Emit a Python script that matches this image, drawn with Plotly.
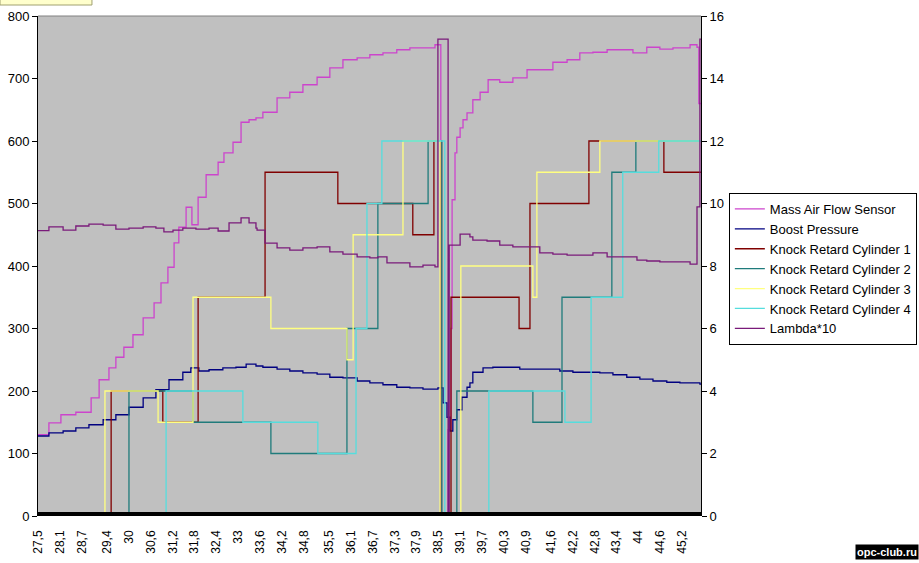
import plotly.graph_objects as go

# time axis labels (as shown on the chart)
tick_labels = ['27,5', '28,1', '28,7', '29,4', '30', '30,6', '31,2', '31,8', '32,4', '33',
               '33,6', '34,2', '34,8', '35,5', '36,1', '36,7', '37,3', '37,9', '38,5', '39,1',
               '39,7', '40,3', '40,9', '41,6', '42,2', '42,8', '43,4', '44', '44,6', '45,2']

# Mass Air Flow Sensor (left axis)
maf_t = [27.50, 27.80, 28.13, 28.54, 28.96, 29.18, 29.45, 29.64, 29.86, 30.11, 30.39, 30.69,
         30.88, 31.07, 31.24, 31.37, 31.57, 31.73, 31.90, 32.12, 32.45, 32.61, 32.86, 33.08,
         33.30, 33.49, 33.68, 34.07, 34.42, 34.78, 35.17, 35.52, 35.88, 36.27, 36.62, 36.98,
         37.36, 37.72, 38.08, 38.41, 38.55, 38.57, 38.71, 38.77, 38.85, 38.88, 38.96, 39.01,
         39.10, 39.18, 39.29, 39.45, 39.65, 39.87, 40.19, 40.55, 40.94, 41.29, 41.65, 42.04,
         42.39, 42.75, 43.14, 43.49, 43.85, 44.23, 44.59, 44.95, 45.42, 45.61, 45.66, 45.72]
maf_v = [130, 149, 162, 166, 189, 218, 237, 254, 270, 290, 317, 341,
         373, 398, 437, 462, 494, 466, 510, 546, 566, 581, 598, 630,
         634, 637, 646, 669, 678, 690, 702, 717, 730, 733, 738, 741,
         746, 749, 749, 754, 754, 0, 0, 138, 300, 506, 581, 606,
         621, 634, 645, 666, 678, 698, 694, 701, 714, 714, 726, 730,
         741, 742, 746, 746, 741, 750, 747, 749, 754, 750, 660, 660]

# Boost Pressure (left axis)
boost_t = [27.50, 27.80, 28.19, 28.54, 28.90, 29.29, 29.64, 30.00, 30.39, 30.74, 31.10, 31.48,
           31.70, 31.92, 32.20, 32.58, 32.94, 33.22, 33.49, 33.68, 34.07, 34.42, 34.78, 35.17,
           35.52, 35.88, 36.27, 36.62, 36.98, 37.36, 37.72, 38.08, 38.49, 38.63, 38.74, 38.82,
           38.90, 39.01, 39.15, 39.29, 39.37, 39.45, 39.73, 40.00, 40.39, 40.74, 41.49, 41.84,
           42.20, 42.59, 42.94, 43.30, 43.68, 44.04, 44.40, 44.78, 45.14, 45.69, 45.72]
boost_v = [128, 133, 136, 141, 146, 154, 162, 174, 189, 202, 218, 230,
           237, 232, 234, 237, 238, 243, 240, 238, 235, 232, 229, 227,
           222, 221, 216, 213, 210, 206, 205, 203, 205, 181, 158, 136,
           154, 170, 190, 206, 213, 230, 237, 238, 238, 235, 235, 232,
           230, 230, 229, 226, 222, 219, 216, 214, 213, 211, 211]

# Knock retard, cylinders 1-4 (right axis, step changes)
kr1_t = [27.50, 29.51, 30.93, 31.90, 33.74, 35.74, 37.80, 38.38, 38.57, 38.85, 40.72, 41.02, 42.64, 44.70, 45.72]
kr1_v = [0, 4, 3, 7, 11, 10, 9, 12, 0, 7, 6, 10, 12, 11, 11]
kr2_t = [27.50, 30.00, 31.76, 33.90, 35.99, 36.84, 38.22, 38.60, 39.01, 41.10, 41.90, 43.27, 43.93, 45.72]
kr2_v = [0, 4, 3, 2, 6, 10, 12, 0, 4, 3, 7, 11, 12, 12]
kr3_t = [27.50, 29.34, 30.80, 31.76, 33.90, 35.99, 36.16, 37.53, 38.55, 39.12, 41.10, 41.21, 42.94, 45.72]
kr3_v = [0, 4, 3, 7, 6, 5, 9, 12, 0, 8, 7, 11, 12, 12]
kr4_t = [27.50, 31.02, 33.13, 35.19, 36.24, 36.54, 36.95, 38.68, 39.89, 41.98, 42.70, 43.57, 44.56, 45.72]
kr4_v = [0, 4, 3, 2, 6, 10, 12, 0, 4, 3, 7, 11, 12, 12]

# Lambda*10 (right axis)
lam_t = [27.50, 27.80, 28.19, 28.54, 28.90, 29.29, 29.64, 30.00, 30.39, 30.74, 30.96, 31.21,
         31.48, 31.84, 32.20, 32.45, 32.75, 33.08, 33.30, 33.49, 33.52, 33.74, 34.07, 34.42,
         34.78, 35.17, 35.52, 35.88, 36.27, 36.62, 36.84, 37.09, 37.45, 37.72, 38.08, 38.41,
         38.49, 38.77, 38.80, 39.10, 39.37, 39.45, 39.84, 40.19, 40.55, 40.94, 41.29, 41.65,
         42.04, 42.39, 42.75, 43.14, 43.41, 43.68, 43.96, 44.23, 44.59, 44.95, 45.42, 45.55,
         45.61, 45.69, 45.72]
lam_v = [9.13, 9.25, 9.15, 9.28, 9.34, 9.31, 9.18, 9.21, 9.25, 9.21, 9.09, 9.15,
         9.21, 9.18, 9.21, 9.12, 9.38, 9.54, 9.38, 9.21, 9.15, 8.73, 8.58, 8.51,
         8.58, 8.61, 8.45, 8.38, 8.29, 8.26, 8.29, 8.10, 8.10, 7.97, 8.03, 7.97,
         15.26, 0, 8.67, 9.02, 8.93, 8.83, 8.80, 8.67, 8.61, 8.61, 8.42, 8.38,
         8.35, 8.35, 8.42, 8.29, 8.29, 8.29, 8.19, 8.16, 8.13, 8.13, 8.06, 8.06,
         9.89, 15.26, 15.26]

series = [
    ('Mass Air Flow Sensor', maf_t, maf_v, '#CC44CC', 'y'),
    ('Boost Pressure', boost_t, boost_v, '#000080', 'y'),
    ('Knock Retard Cylinder 1', kr1_t, kr1_v, '#800000', 'y2'),
    ('Knock Retard Cylinder 2', kr2_t, kr2_v, '#1F7B7B', 'y2'),
    ('Knock Retard Cylinder 3', kr3_t, kr3_v, '#FFFF80', 'y2'),
    ('Knock Retard Cylinder 4', kr4_t, kr4_v, '#55DDDD', 'y2'),
    ('Lambda*10', lam_t, lam_v, '#7A1A7A', 'y2'),
]

fig = go.Figure()
for name, xs, ys, color, yax in series:
    fig.add_scatter(
        x=xs, y=ys, name=name, yaxis=yax,
        mode='lines', line=dict(color=color, width=1.3, shape='hv'),
    )

font = 'Arial, Liberation Sans, sans-serif'
tick_vals = [float(s.replace(',', '.')) for s in tick_labels]

fig.update_layout(
    width=919, height=563,
    margin=dict(l=38, r=218, t=16, b=47, autoexpand=False),
    paper_bgcolor='white',
    plot_bgcolor='#C0C0C0',
    font=dict(family=font, size=12, color='black'),
    xaxis=dict(
        range=[27.5, 45.72], tickvals=tick_vals, ticktext=tick_labels,
        tickangle=-90, showgrid=False, zeroline=False, ticks='',
        tickfont=dict(size=12), ticklabelstandoff=11, automargin=False,
    ),
    yaxis=dict(
        range=[0, 800], dtick=100, showgrid=False, zeroline=False,
        showline=True, linecolor='black', linewidth=1, automargin=False,
        ticks='outside', ticklen=5, tickcolor='black', tickfont=dict(size=13),
    ),
    yaxis2=dict(
        range=[0, 16], dtick=2, overlaying='y', side='right',
        showgrid=False, zeroline=False, automargin=False,
        showline=True, linecolor='black', linewidth=1,
        ticks='outside', ticklen=5, tickcolor='black', tickfont=dict(size=13),
    ),
    legend=dict(
        x=1.042, y=0.646, xanchor='left', yanchor='top',
        bgcolor='white', bordercolor='black', borderwidth=1,
        font=dict(size=13), tracegroupgap=0,
    ),
    showlegend=True,
)

# thick black base line and grey top border of the plot area
fig.add_shape(type='line', xref='paper', yref='y', x0=0, x1=1, y0=0, y1=0,
              line=dict(color='black', width=8), layer='above')
fig.add_shape(type='line', xref='paper', yref='paper', x0=0, x1=1, y0=1, y1=1,
              line=dict(color='#808080', width=1))

# clipped note box at top-left
fig.add_shape(type='rect', xref='paper', yref='paper', x0=-0.0573, x1=0.0814, y0=1.022, y1=1.05,
              fillcolor='#FFFFCC', line=dict(color='#A0A070', width=1))

# watermark
fig.add_annotation(
    text='<b>opc-club.ru</b>', xref='paper', yref='paper', x=1.3288, y=-0.088,
    xanchor='right', yanchor='bottom', showarrow=False,
    font=dict(family=font, size=11, color='white'), bgcolor='black', borderpad=1,
)

# drop the browser's default page margin so the figure fills the window
fig.write_html("out.html", config={'displayModeBar': False},
               post_script="document.body.style.margin='0';")
